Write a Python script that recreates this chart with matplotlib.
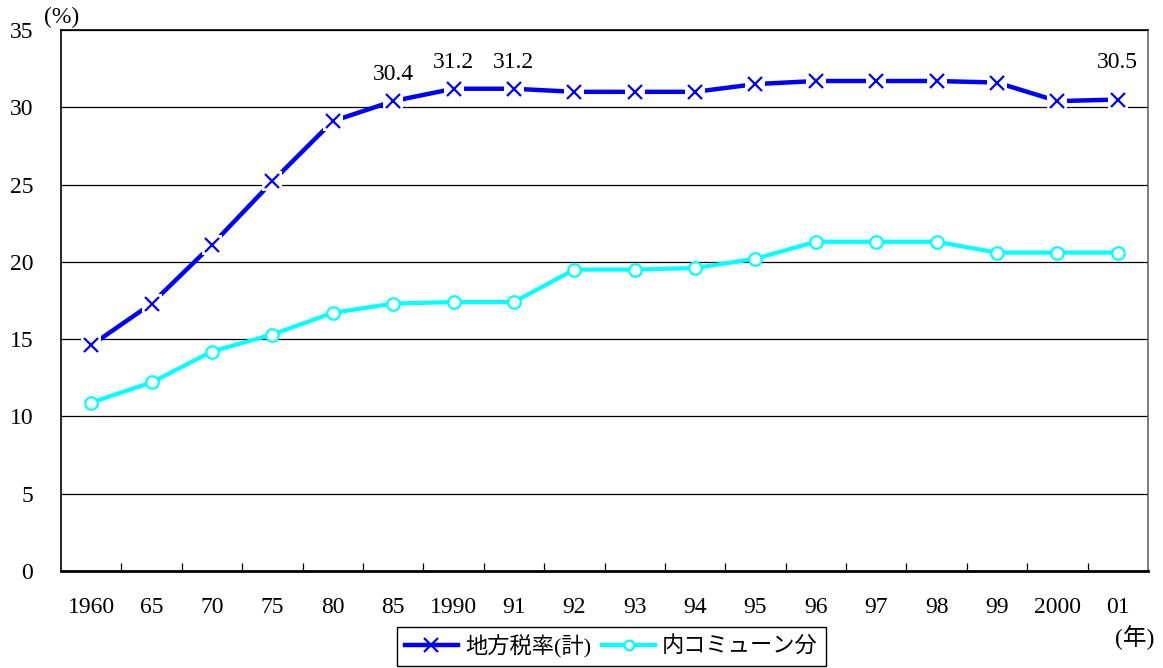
import matplotlib
matplotlib.use("Agg")
import matplotlib.pyplot as plt
from matplotlib.lines import Line2D
import numpy as np

plt.rcParams['font.family'] = ['Liberation Serif', 'Noto Sans CJK JP', 'DejaVu Sans']

years = ["1960", "65", "70", "75", "80", "85", "1990", "91", "92", "93", "94",
         "95", "96", "97", "98", "99", "2000", "01"]
local_tax_total = [14.6, 17.3, 21.1, 25.2, 29.1, 30.4, 31.2, 31.2, 31.0, 31.0, 31.0,
                   31.5, 31.7, 31.7, 31.7, 31.6, 30.4, 30.5]
commune_share = [10.9, 12.2, 14.2, 15.3, 16.7, 17.3, 17.4, 17.4, 19.5, 19.5, 19.6,
                 20.2, 21.3, 21.3, 21.3, 20.6, 20.6, 20.6]
label_idx = [5, 6, 7, 17]
label_text = ["30.4", "31.2", "31.2", "30.5"]
yticks = [0, 5, 10, 15, 20, 25, 30, 35]

BLUE = "#0000FF"
CYAN = "#00FFFF"
FS = 17

fig = plt.figure(figsize=(11.63, 6.68), dpi=100)
ax = fig.add_axes([61/1163, 97/668, (1148-61)/1163, (571-30)/668])

x = np.arange(len(years))

ax.set_ylim(0, 35)
ax.set_xlim(-0.5, len(years) - 0.5)
ax.set_yticks(yticks)
ax.yaxis.grid(True, color='black', linewidth=0.9)
ax.set_axisbelow(True)

# cyan series
ax.plot(x, commune_share, color=CYAN, linewidth=3, marker='o', markersize=9,
        markerfacecolor='white', markeredgecolor=CYAN, markeredgewidth=1.6, zorder=3)

# blue series with gaps around markers
ax.plot(x, local_tax_total, color=BLUE, linewidth=3.2, zorder=4)
ax.plot(x, local_tax_total, linestyle='none', marker='s', markersize=14,
        markerfacecolor='white', markeredgewidth=0, zorder=5)
ax.plot(x, local_tax_total, linestyle='none', marker='x', markersize=10,
        markeredgecolor=BLUE, markeredgewidth=1.6, zorder=6)

offsets = [19, 19, 19, 27]
for i, t, off in zip(label_idx, label_text, offsets):
    ax.annotate(t, (x[i], local_tax_total[i]), xytext=(0, off), textcoords='offset points',
                ha='center', va='center', fontsize=FS)

# ticks
ax.set_xticks(x)
ax.set_xticklabels(years, fontsize=FS)
ax.tick_params(axis='x', which='major', length=0, pad=19)
ax.set_xticks(np.arange(0.5, len(years) - 1, 1.0), minor=True)
ax.tick_params(axis='x', which='minor', direction='in', length=6, width=0.9, color='black')
ax.tick_params(axis='y', length=0, pad=20, labelsize=FS)

for s in ['left', 'top']:
    ax.spines[s].set_color('black')
    ax.spines[s].set_linewidth(1.2)
ax.spines['right'].set_color('#666666')
ax.spines['right'].set_linewidth(1.2)
ax.spines['bottom'].set_color('black')
ax.spines['bottom'].set_linewidth(2)

fig.text(62/1163, 1 - 17/668, "(%)", ha='center', va='center', fontsize=FS)
fig.text(1135/1163, 1 - 638/668, "(年)", ha='center', va='center', fontsize=FS)

h1 = Line2D([], [], color=BLUE, linewidth=3.2, marker='x', markersize=10,
            markeredgecolor=BLUE, markeredgewidth=1.6)
h2 = Line2D([], [], color=CYAN, linewidth=3, marker='o', markersize=7,
            markerfacecolor='white', markeredgecolor=CYAN, markeredgewidth=1.6)
leg = fig.legend([h1, h2], ["地方税率(計)", "内コミューン分"], loc='upper left',
                 bbox_to_anchor=(397/1163, 1 - 627/668), ncol=2, fontsize=16,
                 frameon=True, fancybox=False, edgecolor='black', framealpha=1,
                 handlelength=2.4, handletextpad=0.3, columnspacing=0.5,
                 borderpad=0.35, borderaxespad=0)
leg.get_frame().set_linewidth(1.0)

fig.savefig("out.png", dpi=100)
